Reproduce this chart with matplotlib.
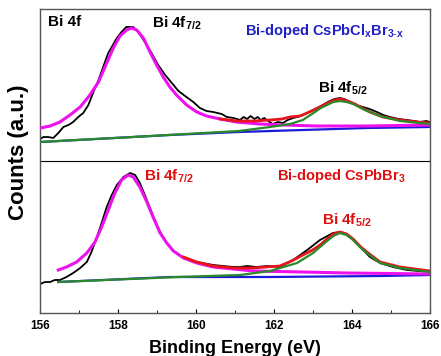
import matplotlib
matplotlib.use('Agg')
import matplotlib.pyplot as plt
from matplotlib.ticker import MultipleLocator

plt.rcParams['font.family'] = ['Liberation Sans', 'DejaVu Sans']
plt.rcParams['mathtext.fontset'] = 'custom'
plt.rcParams['mathtext.rm'] = 'Liberation Sans'
plt.rcParams['mathtext.bf'] = 'Liberation Sans:bold'
plt.rcParams['mathtext.it'] = 'Liberation Sans:bold'

#------------------------------------------------------------------------------
# Datos, energia en eV, intensidad en unidades arbitrarias
#------------------------------------------------------------------------------

# Panel superior: Bi-doped CsPbClxBr3-x
top_exp_e = [156.00, 156.09, 156.21, 156.34, 156.47, 156.60, 156.73, 156.85, 156.98, 157.11,
             157.24, 157.37, 157.50, 157.62, 157.75, 157.84, 157.97, 158.09, 158.21, 158.31,
             158.39, 158.52, 158.69, 158.86, 159.03, 159.21, 159.38, 159.55, 159.72, 159.93,
             160.10, 160.27, 160.44, 160.66, 160.79, 160.96, 161.13, 161.22, 161.31, 161.40,
             161.50, 161.58, 161.66, 161.75, 161.85, 161.97, 162.10, 162.23, 162.35, 162.49,
             162.60, 162.74, 162.90, 163.10, 163.25, 163.38, 163.55, 163.69, 163.80, 163.95,
             164.10, 164.28, 164.45, 164.64, 164.80, 164.97, 165.20, 165.41, 165.60, 165.74,
             165.90, 166.00]
top_exp_i = [174, 176, 176, 175, 180, 186, 188, 191, 196, 200,
             208, 221, 233, 246, 260, 266, 275, 281, 286, 286,
             286, 281, 271, 260, 248, 238, 230, 222, 217, 211,
             205, 202, 201, 199, 196, 195, 193, 196, 194, 197,
             194, 196, 193, 195, 192, 189, 191, 190, 193, 195,
             196, 198, 201, 205, 208, 211, 214, 215, 214, 211,
             208, 206, 204, 201, 198, 196, 194, 193, 192, 191,
             192, 191]

top_p72_e = [156.00, 156.26, 156.51, 156.77, 157.03, 157.28, 157.50, 157.71, 157.88, 158.05,
             158.22, 158.35, 158.48, 158.65, 158.82, 158.99, 159.16, 159.33, 159.50, 159.76,
             160.02, 160.27, 160.62, 161.04, 161.64, 162.23, 163.10, 164.38, 166.00]
top_p72_i = [185, 187, 191, 198, 206, 218, 231, 250, 265, 277,
             283, 285, 283, 275, 261, 248, 236, 226, 218, 208,
             201, 197, 194, 191, 189, 188, 187, 187, 188]

top_env_e = [160.62, 161.05, 161.50, 161.90, 162.20, 162.41, 162.67, 162.85, 163.02, 163.18,
             163.32, 163.44, 163.57, 163.69, 163.82, 163.95, 164.08, 164.21, 164.46, 164.79,
             165.23, 165.67, 166.00]
top_env_i = [194, 192, 192, 193, 194, 196, 197, 200, 203, 206,
             209, 211, 213, 214, 213, 211, 209, 206, 201, 196,
             193, 191, 190]

top_p52_e = [156.00, 158.38, 161.10, 161.90, 162.41, 162.74, 163.05, 163.20, 163.36, 163.52,
             163.69, 163.86, 164.03, 164.18, 164.33, 164.72, 165.23, 166.00]
top_p52_i = [171, 176, 182, 186, 189, 193, 201, 205, 208, 211,
             212, 211, 209, 206, 203, 197, 192, 189]

top_bg_e = [156.00, 159.33, 161.10, 162.74, 164.38, 166.00]
top_bg_i = [171, 178, 181, 183, 185, 186]

# Panel inferior: Bi-doped CsPbBr3
bot_exp_e = [156.00, 156.13, 156.26, 156.38, 156.51, 156.68, 156.85, 157.03, 157.20, 157.32,
             157.45, 157.58, 157.71, 157.84, 157.97, 158.14, 158.31, 158.44, 158.56, 158.74,
             158.91, 159.08, 159.25, 159.42, 159.68, 160.02, 160.44, 160.96, 161.13, 161.31,
             161.55, 161.82, 162.15, 162.49, 162.85, 163.18, 163.51, 163.69, 163.80, 163.95,
             164.21, 164.46, 164.72, 165.05, 165.41, 166.00]
bot_exp_i = [29, 31, 31, 33, 33, 36, 40, 45, 51, 61,
             75, 90, 106, 118, 128, 136, 140, 138, 130, 113,
             96, 81, 70, 62, 55, 51, 48, 46, 46, 47,
             46, 47, 46, 53, 63, 73, 80, 81, 80, 76,
             66, 56, 50, 46, 43, 41]

bot_p72_e = [156.47, 156.68, 156.94, 157.20, 157.41, 157.58, 157.75, 157.92, 158.09, 158.26,
             158.39, 158.56, 158.74, 158.91, 159.08, 159.25, 159.42, 159.68, 160.02, 160.44,
             160.96, 161.46, 162.74, 163.87, 166.00]
bot_p72_i = [43, 46, 51, 60, 71, 86, 103, 120, 133, 138,
             136, 126, 111, 95, 80, 70, 62, 55, 50, 46,
             44, 42, 41, 40, 39]

bot_env_e = [159.68, 160.02, 160.44, 160.96, 161.46, 162.15, 162.45, 162.74, 162.99, 163.18,
             163.36, 163.52, 163.69, 163.86, 164.03, 164.20, 164.38, 164.72, 165.23, 166.00]
bot_env_i = [56, 51, 47, 45, 45, 47, 52, 58, 63, 68,
             74, 79, 81, 79, 74, 67, 61, 51, 46, 42]

bot_p52_e = [156.47, 159.54, 161.13, 161.90, 162.59, 163.00, 163.18, 163.36, 163.52, 163.69,
             163.86, 164.03, 164.20, 164.38, 164.72, 165.23, 166.00]
bot_p52_i = [31, 36, 38, 42, 50, 60, 66, 72, 77, 80,
             78, 73, 66, 60, 50, 45, 41]

bot_bg_e = [156.47, 159.33, 161.90, 164.72, 166.00]
bot_bg_i = [31, 36, 36, 37, 38]

xticks = [156, 158, 160, 162, 164, 166]

#------------------------------------------------------------------------------
# Grafica
#------------------------------------------------------------------------------

c_exp = 'black'
c_p72 = '#ee11ee'
c_env = '#e8141c'
c_p52 = '#2a8a2a'
c_bg = '#1a1ad8'

fig = plt.figure(figsize=(4.41, 3.56), dpi=100)
ax = fig.add_axes([40 / 441, 43 / 356, 390 / 441, 304 / 356])

for e_exp, i_exp, e72, i72, eenv, ienv, e52, i52, ebg, ibg in [
        (top_exp_e, top_exp_i, top_p72_e, top_p72_i, top_env_e, top_env_i,
         top_p52_e, top_p52_i, top_bg_e, top_bg_i),
        (bot_exp_e, bot_exp_i, bot_p72_e, bot_p72_i, bot_env_e, bot_env_i,
         bot_p52_e, bot_p52_i, bot_bg_e, bot_bg_i)]:
    ax.plot(e_exp, i_exp, color=c_exp, lw=1.3, zorder=2, solid_joinstyle='round')
    ax.plot(ebg, ibg, color=c_bg, lw=1.6, zorder=3)
    ax.plot(e72, i72, color=c_p72, lw=2.2, zorder=4, solid_joinstyle='round')
    ax.plot(eenv, ienv, color=c_env, lw=2.0, zorder=5, solid_joinstyle='round')
    ax.plot(e52, i52, color=c_p52, lw=1.6, zorder=6, solid_joinstyle='round')

ax.axhline(152, color='black', lw=0.8)

ax.set_xlim(156, 166)
ax.set_ylim(0, 304)
ax.set_xticks(xticks)
ax.xaxis.set_minor_locator(MultipleLocator(1))
ax.set_yticks([])
ax.tick_params(axis='x', which='major', direction='in', length=3, labelsize=8.5, pad=5)
ax.tick_params(axis='x', which='minor', direction='in', length=2)
for lab in ax.get_xticklabels():
    lab.set_fontweight('bold')
for sp in ax.spines.values():
    sp.set_color('#555555')
    sp.set_linewidth(1.0)

ax.set_xlabel('Binding Energy (eV)', fontsize=13, fontweight='bold', labelpad=6)
ax.set_ylabel('Counts (a.u.)', fontsize=16, fontweight='bold')
ax.yaxis.set_label_coords(-0.028, 0.53)

# Etiquetas
ax.text(156.2, 291, 'Bi 4f', fontsize=11, fontweight='bold', ha='left', va='center')
ax.text(158.87, 290, r'Bi 4f$_{\mathbf{7/2}}$', fontsize=11, fontweight='bold', ha='left', va='center')
ax.text(161.26, 282, r'Bi-doped CsPbCl$_{\mathbf{x}}$Br$_{\mathbf{3\text{-}x}}$', fontsize=10.5,
        fontweight='bold', color='#2020c8', ha='left', va='center')
ax.text(163.13, 225, r'Bi 4f$_{\mathbf{5/2}}$', fontsize=11, fontweight='bold', ha='left', va='center')
ax.text(158.67, 137, r'Bi 4f$_{\mathbf{7/2}}$', fontsize=11, fontweight='bold', color='#e01010',
        ha='left', va='center')
ax.text(162.08, 137, r'Bi-doped CsPbBr$_{\mathbf{3}}$', fontsize=10.5, fontweight='bold',
        color='#e01010', ha='left', va='center')
ax.text(163.23, 93, r'Bi 4f$_{\mathbf{5/2}}$', fontsize=11, fontweight='bold', color='#e01010',
        ha='left', va='center')

fig.savefig('out.png', dpi=100)
